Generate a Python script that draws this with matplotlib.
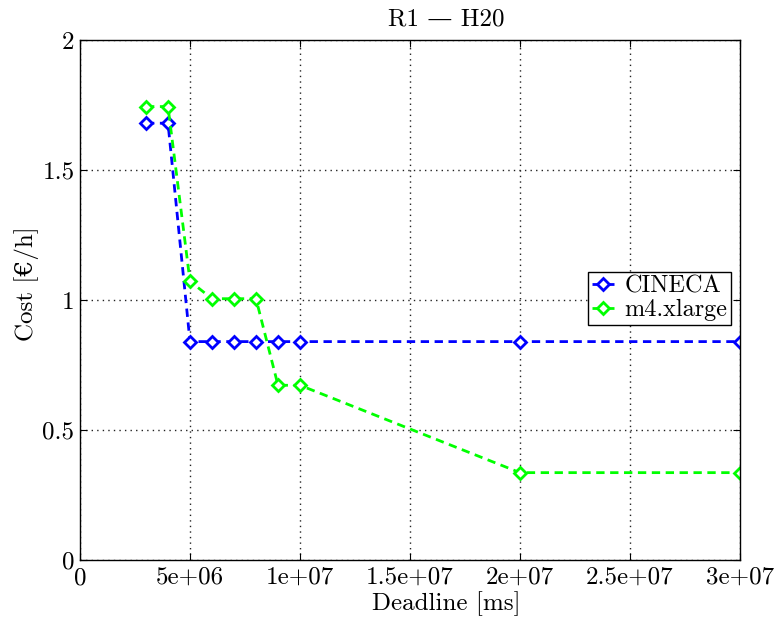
import matplotlib
matplotlib.use("Agg")
import matplotlib.pyplot as plt

plt.rcParams['font.family'] = ['cmr10', 'DejaVu Serif']
plt.rcParams['axes.unicode_minus'] = False
plt.rcParams['mathtext.fontset'] = 'cm'

deadlines = [3e6, 4e6, 5e6, 6e6, 7e6, 8e6, 9e6, 1e7, 2e7, 3e7]
cineca = [1.68, 1.68, 0.84, 0.84, 0.84, 0.84, 0.84, 0.84, 0.84, 0.84]
m4 = [1.744, 1.744, 1.072, 1.005, 1.005, 1.005, 0.672, 0.672, 0.336, 0.336]
xticks = [0, 5e6, 1e7, 1.5e7, 2e7, 2.5e7, 3e7]
xticklabels = ['0', '5e+06', '1e+07', '1.5e+07', '2e+07', '2.5e+07', '3e+07']
yticks = [0, 0.5, 1, 1.5, 2]
yticklabels = ['0', '0.5', '1', '1.5', '2']

W, H = 779, 622
fig = plt.figure(figsize=(W/100, H/100), dpi=100)
ax = fig.add_axes([80/W, (H-560)/H, 660/W, 520/H])

ax.plot(deadlines, cineca, linestyle=(0, (3, 2)), color='#0000ff', lw=2,
        marker='D', markersize=6.5, markerfacecolor='white', markeredgecolor='#0000ff',
        markeredgewidth=2, label='CINECA')
ax.plot(deadlines, m4, linestyle=(0, (3, 2)), color='#00ff00', lw=2,
        marker='D', markersize=6.5, markerfacecolor='white', markeredgecolor='#00ff00',
        markeredgewidth=2, label='m4.xlarge')

ax.set_xlim(0, 3e7)
ax.set_ylim(0, 2)
ax.set_xticks(xticks)
ax.set_xticklabels(xticklabels)
ax.set_yticks(yticks)
ax.set_yticklabels(yticklabels)
ax.tick_params(direction='in', labelsize=18, length=5, top=True, right=True)
ax.tick_params(axis='x', pad=5)
ax.tick_params(axis='y', pad=4)
ax.grid(True, linestyle=(0, (1, 3)), color='#222222', linewidth=1)
for s in ax.spines.values():
    s.set_linewidth(1)

fig.text(446/W, 1 - 610/H, 'Deadline [ms]', fontsize=18, ha='center', va='baseline')
fig.text(446/W, 1 - 26/H, 'R1 — H20', fontsize=18, ha='center', va='baseline')
fig.text(27/W, 1 - 284/H, 'Cost [€/h]', fontsize=18, ha='center', va='center', rotation=90)

leg = ax.legend(loc='upper left', bbox_to_anchor=((588-80)/660, (560-272)/520),
                fontsize=17.5, frameon=True, fancybox=False, edgecolor='black',
                framealpha=1, borderpad=0.15, handlelength=0.9, handletextpad=0.45,
                labelspacing=0.05, borderaxespad=0)
leg.get_frame().set_linewidth(1)

fig.savefig('out.png', dpi=100)
